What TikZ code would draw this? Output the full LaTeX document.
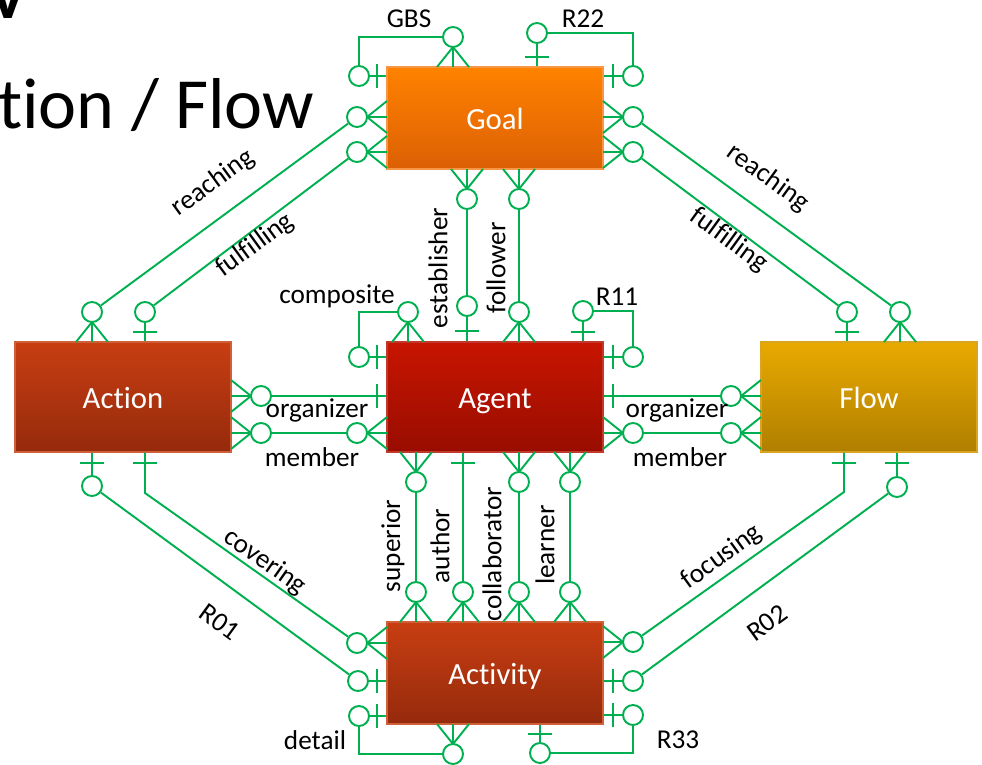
\documentclass[tikz,border=0pt]{standalone}
\usepackage{fontspec}
\setmainfont{Carlito}[Ligatures=NoCommon]
\usetikzlibrary{positioning}
\definecolor{ergreen}{HTML}{00B050}
\definecolor{goaltop}{HTML}{FF8200}
\definecolor{goalbot}{HTML}{DC6004}
\definecolor{goalline}{HTML}{F79646}
\definecolor{agenttop}{HTML}{C81500}
\definecolor{agentbot}{HTML}{980D00}
\definecolor{agentline}{HTML}{C0392B}
\definecolor{acttop}{HTML}{C83E12}
\definecolor{actbot}{HTML}{952A0C}
\definecolor{actline}{HTML}{D0603A}
\definecolor{flowtop}{HTML}{E8A900}
\definecolor{flowbot}{HTML}{B07F00}
\definecolor{flowline}{HTML}{D9A520}

\begin{document}
\begin{tikzpicture}[x=0.02cm, y=-0.02cm,
  entity/.style n args={3}{rectangle, top color=#1, bottom color=#2, draw=#3, line width=0.8pt, minimum width=4.32cm, text=white, text height=14pt, text depth=0.5pt, font=\fontsize{17.5}{21}\selectfont},
  ring/.style={circle, draw=ergreen, line width=1.1pt, minimum size=0.4cm, inner sep=0pt},
  link/.style={draw=ergreen, line width=1.1pt},
  rolename/.style={font=\fontsize{15.5}{18}\selectfont, inner sep=0pt},
  crowfoot/.pic={\draw[link] (10,0) -- (30,-16) (10,0) -- (30,0) (10,0) -- (30,16);},
  onebar/.pic={\draw[link] (0,-12) -- (0,12);},
]
  \useasboundingbox (0,0) rectangle (982,764);

  % Slide title, cut off by the frame
  \node[anchor=base west, inner sep=0pt, font=\fontsize{41}{48}\selectfont] (title) at (-2,128) {tion / Flow};
  \node[anchor=base, inner sep=0pt, font=\fontsize{40}{48}\selectfont\bfseries] (heading) at (8,18) {v};

  % Entities
  \node[entity={goaltop}{goalbot}{goalline}, minimum height=2.04cm] (goal) at (495,118) {Goal};
  \node[entity={agenttop}{agentbot}{agentline}, minimum height=2.2cm] (agent) at (495,397) {Agent};
  \node[entity={acttop}{actbot}{actline}, minimum height=2.2cm] (action) at (123,397) {Action};
  \node[entity={flowtop}{flowbot}{flowline}, minimum height=2.2cm] (flow) at (869,397) {Flow};
  \node[entity={acttop}{actbot}{actline}, minimum height=2.04cm] (activity) at (495,673) {Activity};

  % GBS
  \node[ring] (gbsL) at (359,76) {};
  \node[ring] (gbsT) at (453,37) {};
  \draw[link] (gbsL.east) -- (gbsL.east -| goal.west);
  \pic at (377,76) {onebar};
  \pic[rotate=-90] at (gbsT) {crowfoot};
  \draw[link] (gbsL.north) |- (gbsT.west);
  \node[rolename] (gbsName) at (409,19) {GBS};

  % R22
  \node[ring] (r22T) at (537,33) {};
  \node[ring] (r22R) at (633,76) {};
  \draw[link] (r22T.south) -- (r22T.south |- goal.north);
  \pic[rotate=90] at (537,57) {onebar};
  \draw[link] (r22R.west) -- (r22R.west -| goal.east);
  \pic at (613,76) {onebar};
  \draw[link] (r22T.east) -| (r22R.north);
  \node[rolename] (r22Name) at (583,19) {R22};

  % Goal - Action
  \node[ring] (reachG) at (357,117) {};
  \node[ring] (reachAc) at (92,312) {};
  \pic at (reachG) {crowfoot};
  \pic[rotate=-90] at (reachAc) {crowfoot};
  \draw[link] (reachG) -- (reachAc);
  \node[ring] (fulfG) at (357,152) {};
  \node[ring] (fulfAc) at (145,312) {};
  \pic at (fulfG) {crowfoot};
  \draw[link] (fulfAc.south) -- (fulfAc.south |- action.north);
  \pic[rotate=90] at (145,332) {onebar};
  \draw[link] (fulfG) -- (fulfAc);
  \node[rolename, rotate=36] (reachAcName) at (213,183) {reaching};
  \node[rolename, rotate=36] (fulfAcName) at (255,245) {fulfilling};

  % Goal - Flow
  \node[ring] (reachGr) at (633,117) {};
  \node[ring] (reachFl) at (900,312) {};
  \pic[rotate=180] at (reachGr) {crowfoot};
  \pic[rotate=-90] at (reachFl) {crowfoot};
  \draw[link] (reachGr) -- (reachFl);
  \node[ring] (fulfGr) at (633,152) {};
  \node[ring] (fulfFl) at (847,312) {};
  \pic[rotate=180] at (fulfGr) {crowfoot};
  \draw[link] (fulfFl.south) -- (fulfFl.south |- flow.north);
  \pic[rotate=90] at (847,332) {onebar};
  \draw[link] (fulfGr) -- (fulfFl);
  \node[rolename, rotate=-36] (reachFlName) at (768,178) {reaching};
  \node[rolename, rotate=-36] (fulfFlName) at (729,240) {fulfilling};

  % Goal - Agent
  \node[ring] (estG) at (467,199) {};
  \node[ring] (estA) at (467,306) {};
  \pic[rotate=90] at (estG) {crowfoot};
  \draw[link] (estG) -- (estA);
  \draw[link] (estA.south) -- (estA.south |- agent.north);
  \pic[rotate=90] at (467,331) {onebar};
  \node[ring] (folG) at (519,199) {};
  \node[ring] (folA) at (519,312) {};
  \pic[rotate=90] at (folG) {crowfoot};
  \pic[rotate=-90] at (folA) {crowfoot};
  \draw[link] (folG) -- (folA);
  \node[rolename, rotate=90] (estName) at (438,268) {establisher};
  \node[rolename, rotate=90] (folName) at (496,268) {follower};

  % composite
  \node[ring] (compL) at (359,357) {};
  \node[ring] (compT) at (408,312) {};
  \draw[link] (compL.east) -- (compL.east -| agent.west);
  \pic at (377,357) {onebar};
  \pic[rotate=-90] at (compT) {crowfoot};
  \draw[link] (compL.north) |- (compT.west);
  \node[rolename] (compName) at (337,296) {composite};

  % R11
  \node[ring] (r11T) at (583,311) {};
  \node[ring] (r11R) at (633,357) {};
  \draw[link] (r11T.south) -- (r11T.south |- agent.north);
  \pic[rotate=90] at (583,332) {onebar};
  \draw[link] (r11R.west) -- (r11R.west -| agent.east);
  \pic at (613,357) {onebar};
  \draw[link] (r11T.east) -| (r11R.north);
  \node[rolename] (r11Name) at (617,297) {R11};

  % Action - Agent
  \node[ring] (orgAc) at (261,396) {};
  \pic[rotate=180] at (orgAc) {crowfoot};
  \draw[link] (orgAc.east) -- (orgAc.east -| agent.west);
  \pic at (377,396) {onebar};
  \node[ring] (memAc) at (261,433) {};
  \node[ring] (memAg) at (357,433) {};
  \pic[rotate=180] at (memAc) {crowfoot};
  \pic at (memAg) {crowfoot};
  \draw[link] (memAc) -- (memAg);
  \node[rolename] (orgAcName) at (317,410) {organizer};
  \node[rolename] (memAcName) at (312,457) {member};

  % Agent - Flow
  \node[ring] (orgFl) at (731,396) {};
  \pic at (orgFl) {crowfoot};
  \draw[link] (orgFl.west) -- (orgFl.west -| agent.east);
  \pic at (613,396) {onebar};
  \node[ring] (memAg2) at (633,433) {};
  \node[ring] (memFl) at (731,433) {};
  \pic[rotate=180] at (memAg2) {crowfoot};
  \pic at (memFl) {crowfoot};
  \draw[link] (memAg2) -- (memFl);
  \node[rolename] (orgFlName) at (677,410) {organizer};
  \node[rolename] (memFlName) at (680,457) {member};

  % Agent - Activity
  \node[ring] (supTop) at (416,482) {};
  \node[ring] (supBot) at (416,592) {};
  \pic[rotate=90] at (supTop) {crowfoot};
  \pic[rotate=-90] at (supBot) {crowfoot};
  \draw[link] (supTop) -- (supBot);
  \node[ring] (autBot) at (463,592) {};
  \pic[rotate=-90] at (autBot) {crowfoot};
  \draw[link] (autBot.north) -- (autBot.north |- agent.south);
  \pic[rotate=90] at (463,463) {onebar};
  \node[ring] (colTop) at (519,482) {};
  \node[ring] (colBot) at (519,592) {};
  \pic[rotate=90] at (colTop) {crowfoot};
  \pic[rotate=-90] at (colBot) {crowfoot};
  \draw[link] (colTop) -- (colBot);
  \node[ring] (lrnTop) at (570,482) {};
  \node[ring] (lrnBot) at (570,592) {};
  \pic[rotate=90] at (lrnTop) {crowfoot};
  \pic[rotate=-90] at (lrnBot) {crowfoot};
  \draw[link] (lrnTop) -- (lrnBot);
  \node[rolename, rotate=90] (supName) at (393,546) {superior};
  \node[rolename, rotate=90] (autName) at (440,546) {author};
  \node[rolename, rotate=90] (colName) at (492,554) {collaborator};
  \node[rolename, rotate=90] (lrnName) at (545,545) {learner};

  % Action - Activity
  \node[ring] (r01Ac) at (92,486) {};
  \node[ring] (r01Av) at (358,681) {};
  \draw[link] (r01Ac.north) -- (r01Ac.north |- action.south);
  \pic[rotate=90] at (92,463) {onebar};
  \draw[link] (r01Av.east) -- (r01Av.east -| activity.west);
  \pic at (377,681) {onebar};
  \draw[link] (r01Ac) -- (r01Av);
  \coordinate (covBend) at (145,493);
  \node[ring] (covAv) at (357,643) {};
  \draw[link] (covBend |- action.south) -- (covBend) -- (covAv);
  \pic[rotate=90] at (145,463) {onebar};
  \pic at (covAv) {crowfoot};
  \node[rolename, rotate=-35] (covName) at (265,562) {covering};
  \node[rolename, rotate=-36] (r01Name) at (220,622) {R01};

  % Flow - Activity
  \coordinate (focBend) at (844,492);
  \node[ring] (focAv) at (633,642) {};
  \draw[link] (focBend |- flow.south) -- (focBend) -- (focAv);
  \pic[rotate=90] at (844,463) {onebar};
  \pic[rotate=180] at (focAv) {crowfoot};
  \node[ring] (r02Fl) at (897,487) {};
  \node[ring] (r02Av) at (633,681) {};
  \draw[link] (r02Fl.north) -- (r02Fl.north |- flow.south);
  \pic[rotate=90] at (897,463) {onebar};
  \draw[link] (r02Av.west) -- (r02Av.west -| activity.east);
  \pic at (613,681) {onebar};
  \draw[link] (r02Fl) -- (r02Av);
  \node[rolename, rotate=36] (focName) at (722,557) {focusing};
  \node[rolename, rotate=36] (r02Name) at (767,623) {R02};

  % detail
  \node[ring] (detL) at (359,716) {};
  \node[ring] (detB) at (453,754) {};
  \draw[link] (detL.east) -- (detL.east -| activity.west);
  \pic at (377,716) {onebar};
  \pic[rotate=90] at (detB) {crowfoot};
  \draw[link] (detL.south) |- (detB.west);
  \node[rolename] (detName) at (315,740) {detail};

  % R33
  \node[ring] (r33B) at (540,753) {};
  \node[ring] (r33R) at (633,715) {};
  \draw[link] (r33B.north) -- (r33B.north |- activity.south);
  \pic[rotate=90] at (540,734) {onebar};
  \draw[link] (r33R.west) -- (r33R.west -| activity.east);
  \pic at (613,715) {onebar};
  \draw[link] (r33B.east) -| (r33R.south);
  \node[rolename] (r33Name) at (678,740) {R33};
\end{tikzpicture}
\end{document}
